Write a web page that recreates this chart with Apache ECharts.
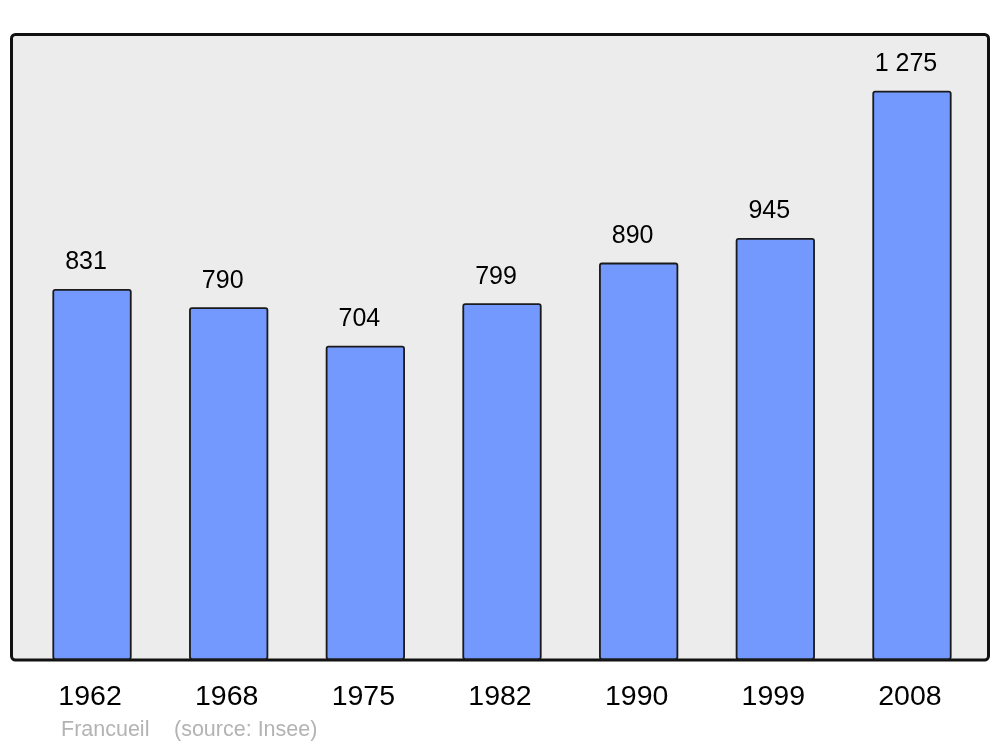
<!DOCTYPE html>
<html>
<head>
<meta charset="utf-8">
<script src="https://cdn.jsdelivr.net/npm/echarts@6/dist/echarts.min.js"></script>
<style>html,body{margin:0;padding:0;background:#fff}#c{width:1000px;height:747px}</style>
</head>
<body>
<div id="c"></div>
<script>
const years = ['1962', '1968', '1975', '1982', '1990', '1999', '2008'];
const population = [831, 790, 704, 799, 890, 945, 1275];
const footerPlace = 'Francueil';
const footerSource = '(source: Insee)';

function fmt(v) {
  return String(v).replace(/\B(?=(\d{3})+(?!\d))/g, ' ');
}

const chart = echarts.init(document.getElementById('c'), null, {renderer: 'canvas'});
chart.setOption({
  animation: false,
  backgroundColor: '#ffffff',
  textStyle: {fontFamily: '"Liberation Sans", Arial, sans-serif'},
  grid: {left: 23.7, right: 19.7, top: 34, bottom: 87, containLabel: false},
  graphic: [
    {
      type: 'rect', z: -10, silent: true,
      shape: {x: 11.5, y: 34.5, width: 977, height: 625.5, r: 4},
      style: {fill: '#ececec', stroke: '#111111', lineWidth: 3}
    },
    {
      type: 'text', left: 61, top: 719,
      style: {text: footerPlace, fill: '#b3b3b3', font: '21.5px "Liberation Sans", Arial, sans-serif'}
    },
    {
      type: 'text', left: 174, top: 719,
      style: {text: footerSource, fill: '#b3b3b3', font: '21.5px "Liberation Sans", Arial, sans-serif'}
    }
  ],
  xAxis: {
    type: 'category',
    data: years,
    axisLine: {show: false},
    axisTick: {show: false},
    axisLabel: {color: '#000', fontSize: 28.5, margin: 23, padding: [0, 4, 0, 0], fontFamily: '"Liberation Sans", Arial, sans-serif'}
  },
  yAxis: {
    type: 'value', min: 0, max: 1402,
    show: false,
    splitLine: {show: false}
  },
  series: [{
    type: 'bar',
    data: population,
    barWidth: '58%',
    itemStyle: {color: '#7399ff', borderColor: '#1a1a1a', borderWidth: 1.8, borderRadius: 2},
    label: {
      show: true, position: 'top', distance: 14, offset: [-6, 0],
      color: '#000', fontSize: 25,
      fontFamily: '"Liberation Sans", Arial, sans-serif',
      formatter: p => fmt(p.value)
    }
  }]
});
</script>
</body>
</html>
